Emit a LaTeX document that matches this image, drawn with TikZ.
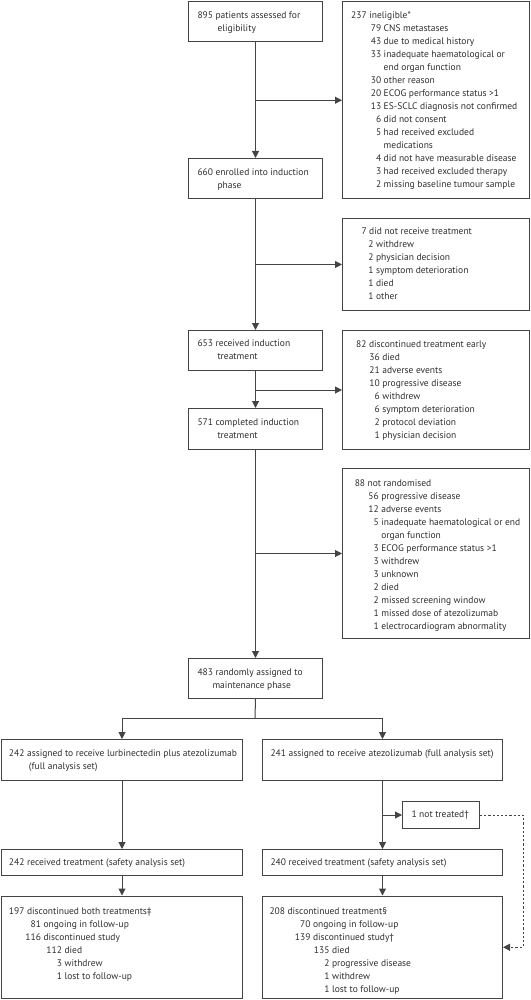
\documentclass[tikz,border=0pt]{standalone}
\usepackage{fontspec}
\setmainfont{PT Sans}
\usetikzlibrary{arrows.meta}
\definecolor{txtc}{HTML}{2E2E2E}
\definecolor{linec}{HTML}{444444}
\newcommand\itm[3]{\hspace*{#1pt}\llap{#2}\ #3}
\newcommand\cnt[2]{\hspace*{#1pt}\ #2}
\newcommand\bxt[5]{\parbox[c][#2pt][t]{#1pt}{\raggedright\leftskip=#3pt\relax\parindent=0pt\fontsize{9.5}{13}\selectfont\vspace*{#4pt}\strut #5}}
\tikzset{
  flowbox/.style={draw=linec, line width=1pt, inner sep=0pt, anchor=north west, text=txtc},
  plainline/.style={draw=linec, line width=1pt},
  arrowline/.style={plainline, -{Triangle[length=7pt,width=7pt]}},
  dotline/.style={dash pattern=on 2.2pt off 2pt}
}
\begin{document}
\begin{tikzpicture}[x=1pt,y=-1pt]
\useasboundingbox (0,0) rectangle (530,1000);
% boxes
\node[flowbox] (b895) at (188,1) {\bxt{134}{40}{9}{7.9}{895 patients assessed for\\\hspace*{20pt}eligibility}};
\node[flowbox] (b237) at (342,1.5) {\bxt{187}{196.5}{8.7}{7.9}{237 ineligible*\\
\itm{30}{79}{CNS metastases}\\
\itm{30}{43}{due to medical history}\\
\itm{30}{33}{inadequate haematological or}\\
\cnt{30}{end organ function}\\
\itm{30}{30}{other reason}\\
\itm{30}{20}{ECOG performance status >1}\\
\itm{30}{13}{ES-SCLC diagnosis not confirmed}\\
\itm{30}{6}{did not consent}\\
\itm{30}{5}{had received excluded}\\
\cnt{30}{medications}\\
\itm{30}{4}{did not have measurable disease}\\
\itm{30}{3}{had received excluded therapy}\\
\itm{30}{2}{missing baseline tumour sample}}};
\node[flowbox] (b660) at (188,158) {\bxt{134}{40}{9}{7.9}{660 enrolled into induction\\\hspace*{20pt}phase}};
\node[flowbox] (b7) at (342,218) {\bxt{187}{92}{19}{6.9}{7 did not receive treatment\\
\itm{12}{2}{withdrew}\\
\itm{12}{2}{physician decision}\\
\itm{12}{1}{symptom deterioration}\\
\itm{12}{1}{died}\\
\itm{12}{1}{other}}};
\node[flowbox] (b653) at (188,330) {\bxt{134}{40}{9}{6.9}{653 received induction\\\hspace*{20pt}treatment}};
\node[flowbox] (b82) at (342,330) {\bxt{187}{119}{13.7}{7.9}{82 discontinued treatment early\\
\itm{23.6}{36}{died}\\
\itm{23.6}{21}{adverse events}\\
\itm{23.6}{10}{progressive disease}\\
\itm{23.6}{6}{withdrew}\\
\itm{23.6}{6}{symptom deterioration}\\
\itm{23.6}{2}{protocol deviation}\\
\itm{23.6}{1}{physician decision}}};
\node[flowbox] (b571) at (188,408) {\bxt{134}{41}{9}{7.9}{571 completed induction\\\hspace*{20pt}treatment}};
\node[flowbox] (b88) at (342,468) {\bxt{187}{170}{12.3}{8.9}{88 not randomised\\
\itm{24}{56}{progressive disease}\\
\itm{24}{12}{adverse events}\\
\itm{24}{5}{inadequate haematological or end}\\
\cnt{24}{organ function}\\
\itm{24}{3}{ECOG performance status >1}\\
\itm{24}{3}{withdrew}\\
\itm{24}{3}{unknown}\\
\itm{24}{2}{died}\\
\itm{24}{2}{missed screening window}\\
\itm{24}{1}{missed dose of atezolizumab}\\
\itm{24}{1}{electrocardiogram abnormality}}};
\node[flowbox] (b483) at (188,658) {\bxt{134}{40}{9}{7.9}{483 randomly assigned to\\\hspace*{15pt}maintenance phase}};
\node[flowbox] (b242a) at (1,739) {\bxt{241}{41}{7.5}{7.9}{242 assigned to receive lurbinectedin plus atezolizumab\\\hspace*{20pt}(full analysis set)}};
\node[flowbox] (b241a) at (262,739) {\bxt{240}{41}{8}{7.9}{241 assigned to receive atezolizumab (full analysis set)}};
\node[flowbox] (bnt) at (402,801) {\bxt{77}{27}{9}{6.9}{1 not treated†}};
\node[flowbox] (b242r) at (1,849) {\bxt{241}{26}{7.5}{6.9}{242 received treatment (safety analysis set)}};
\node[flowbox] (b240r) at (262,849) {\bxt{240}{26}{8}{6.9}{240 received treatment (safety analysis set)}};
\node[flowbox] (b197) at (1,895.5) {\bxt{241}{102.5}{7.5}{8.9}{197 discontinued both treatments‡\\
\itm{32}{81}{ongoing in follow-up}\\
\itm{32}{116}{discontinued study}\\
\itm{53}{112}{died}\\
\itm{53}{3}{withdrew}\\
\itm{53}{1}{lost to follow-up}}};
\node[flowbox] (b208) at (262,895.5) {\bxt{240}{102.5}{7}{8.9}{208 discontinued treatment§\\
\itm{41}{70}{ongoing in follow-up}\\
\itm{41}{139}{discontinued study†}\\
\itm{60}{135}{died}\\
\itm{60}{2}{progressive disease}\\
\itm{60}{1}{withdrew}\\
\itm{60}{1}{lost to follow-up}}};
% connectors
\draw[arrowline] (b895.south) -- (b660.north);
\draw[arrowline] (b895.south |- b237.west) -- (b237.west);
\draw[arrowline] (b660.south) -- (b653.north);
\draw[arrowline] (b660.south |- b7.west) -- (b7.west);
\draw[arrowline] (b653.south) -- (b571.north);
\draw[arrowline] (b653.south |- b82.west) -- (b82.west);
\draw[arrowline] (b571.south) -- (b483.north);
\draw[arrowline] (b571.south |- b88.west) -- (b88.west);
\coordinate (split) at (255,718);
\draw[plainline] (b483.south) -- (split);
\draw[arrowline] (split) -| (b242a.north);
\draw[arrowline] (split) -| (b241a.north);
\draw[arrowline] (b242a.south) -- (b242r.north);
\draw[arrowline] (b241a.south) -- (b240r.north);
\draw[arrowline] (b241a.south |- bnt.west) -- (bnt.west);
\draw[arrowline] (b242r.south) -- (b197.north);
\draw[arrowline] (b240r.south) -- (b208.north);
\coordinate (dc) at ([xshift=20pt]b208.east);
\draw[arrowline, dotline] (bnt.east) -| (dc) -- (b208.east);
\end{tikzpicture}
\end{document}
